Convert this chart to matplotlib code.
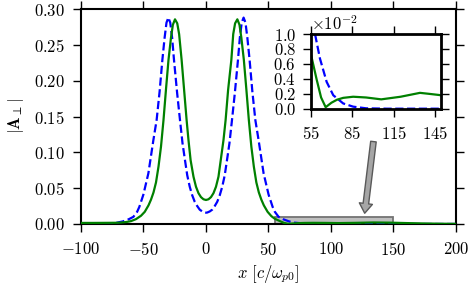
import matplotlib
matplotlib.use('Agg')
import matplotlib.pyplot as plt
from matplotlib.patches import Rectangle

plt.rcParams['font.family'] = 'serif'
plt.rcParams['font.serif'] = ['cmr10']
plt.rcParams['mathtext.fontset'] = 'cm'
plt.rcParams['axes.formatter.use_mathtext'] = True
plt.rcParams['font.size'] = 12
plt.rcParams['axes.unicode_minus'] = True

# |A_perp|, solid green curve
green_x = [-100, -90, -80, -72, -68, -64, -60, -56, -52, -49, -46, -44, -42, -40, -38,
           -36, -34, -32, -30, -28, -26.5, -24.8, -23, -21.5, -19.5, -17.5, -15.5, -14,
           -12.3, -10, -8, -6, -4, -2, 0, 2, 4, 6, 8, 10, 11.8, 14, 15.7, 17.7, 20.3,
           21.8, 23.3, 25.1, 26.8, 28.3, 30.3, 32.3, 34.3, 36.3, 38.3, 40.3, 42.3, 44.3,
           46.3, 49.3, 52.3, 55, 59.3, 62.5, 65.8, 70, 74, 78.5, 85.7, 95, 106, 120, 134,
           140, 148, 160, 175, 190, 200]
green_y = [0.0015, 0.0015, 0.0016, 0.0017, 0.0020, 0.0027, 0.0040, 0.0068, 0.0115, 0.0170,
           0.026, 0.034, 0.044, 0.058, 0.080, 0.108, 0.145, 0.188, 0.229, 0.260, 0.278,
           0.2856, 0.280, 0.265, 0.229, 0.187, 0.145, 0.117, 0.089, 0.066, 0.052, 0.043,
           0.0375, 0.0345, 0.0335, 0.0345, 0.0375, 0.043, 0.052, 0.066, 0.089, 0.117,
           0.145, 0.187, 0.229, 0.265, 0.280, 0.2856, 0.278, 0.260, 0.229, 0.188, 0.145,
           0.108, 0.080, 0.058, 0.044, 0.034, 0.026, 0.0170, 0.0110, 0.0074, 0.0039,
           0.0015, 0.0002, 0.0008, 0.0012, 0.00145, 0.0016, 0.0015, 0.00125, 0.0016,
           0.00212, 0.0020, 0.00183, 0.0013, 0.0007, 0.0003, 0.0002]

# dashed blue curve
blue_x = [-100, -95.1, -85.7, -78.5, -71.3, -66.5, -61.7, -58.1, -55.1, -53.3, -50.1,
          -46.1, -42.1, -39.5, -37.1, -34.9, -33.1, -31.6, -30.1, -28.6, -27.1, -25.6,
          -23.1, -20.8, -18.8, -16.8, -15.0, -13.0, -11.0, -9.0, -7.0, -5.0, -3.0, -1.0,
          0, 1.0, 3.0, 5.0, 7.0, 9.0, 11.0, 13.0, 15.0, 16.8, 18.8, 20.8, 23.1, 25.6,
          27.1, 28.6, 30.1, 31.6, 33.1, 34.9, 37.1, 39.5, 42.1, 46.1, 50.1, 53.3, 55.1,
          58.1, 61.7, 66.5, 71.3, 78.5, 85.7, 95.1, 110, 150, 200]
blue_y = [0.0, 0.00005, 0.00027, 0.0007, 0.0018, 0.0036, 0.0067, 0.010, 0.017, 0.024,
          0.041, 0.0707, 0.117, 0.145, 0.185, 0.229, 0.260, 0.281, 0.288, 0.281, 0.260,
          0.229, 0.183, 0.145, 0.113, 0.089, 0.068, 0.052, 0.040, 0.031, 0.025, 0.020,
          0.0175, 0.016, 0.0158, 0.016, 0.0175, 0.020, 0.025, 0.031, 0.040, 0.052, 0.068,
          0.089, 0.113, 0.145, 0.183, 0.229, 0.260, 0.281, 0.288, 0.281, 0.260, 0.229,
          0.185, 0.145, 0.117, 0.0707, 0.041, 0.024, 0.017, 0.010, 0.0067, 0.0036,
          0.0018, 0.0007, 0.00027, 0.00005, 0.0, 0.0, 0.0]

main_xticks = [-100, -50, 0, 50, 100, 150, 200]
main_yticks = [0.00, 0.05, 0.10, 0.15, 0.20, 0.25, 0.30]
inset_xticks = [55, 85, 115, 145]
inset_yticks = [0.0, 0.002, 0.004, 0.006, 0.008, 0.010]
zoom_box = (55, 150, 0.0, 0.01)

fig = plt.figure(figsize=(4.71, 2.86), dpi=100)
ax = fig.add_axes([0.172, 0.2168, 0.796, 0.7517])
ax.plot(blue_x, blue_y, 'b--', lw=1.6, zorder=3)
ax.plot(green_x, green_y, 'g-', lw=1.6, zorder=3)
ax.set_xlim(-100, 200)
ax.set_ylim(0, 0.30)
ax.set_xticks(main_xticks)
ax.set_yticks(main_yticks)
ax.set_xlabel(r'$x\ [c/\omega_{p0}]$', labelpad=3)
ax.set_ylabel(r'$|\mathbf{A}_\perp|$', labelpad=6)
ax.tick_params(direction='out', length=5.5, width=1, top=True, right=True)
ax.tick_params(axis='x', pad=7)
ax.tick_params(axis='y', pad=6)
for s in ax.spines.values():
    s.set_linewidth(1.5)

x0, x1, y0, y1 = zoom_box
ax.add_patch(Rectangle((x0, y0), x1 - x0, y1 - y0, facecolor='0.75',
                       edgecolor='0.45', lw=1.3, zorder=2))
ax.annotate('', xy=(127, 0.015), xytext=(134, 0.115),
            arrowprops=dict(facecolor='0.65', edgecolor='0.35', width=4,
                            headwidth=9.5, headlength=7, shrink=0, lw=1))

ins = fig.add_axes([0.6597, 0.620, 0.276, 0.261])
ins.plot(blue_x, blue_y, 'b--', lw=1.6)
ins.plot(green_x, green_y, 'g-', lw=1.6)
ins.set_xlim(55, 149)
ins.set_ylim(0, 0.01)
ins.set_xticks(inset_xticks)
ins.set_yticks(inset_yticks)
ins.ticklabel_format(axis='y', style='sci', scilimits=(0, 0))
ins.tick_params(direction='out', length=5.5, width=1, top=True, right=True)
ins.tick_params(axis='x', pad=6)
ins.tick_params(axis='y', pad=5)
for s in ins.spines.values():
    s.set_linewidth(2)

fig.savefig('out.png', dpi=100)
